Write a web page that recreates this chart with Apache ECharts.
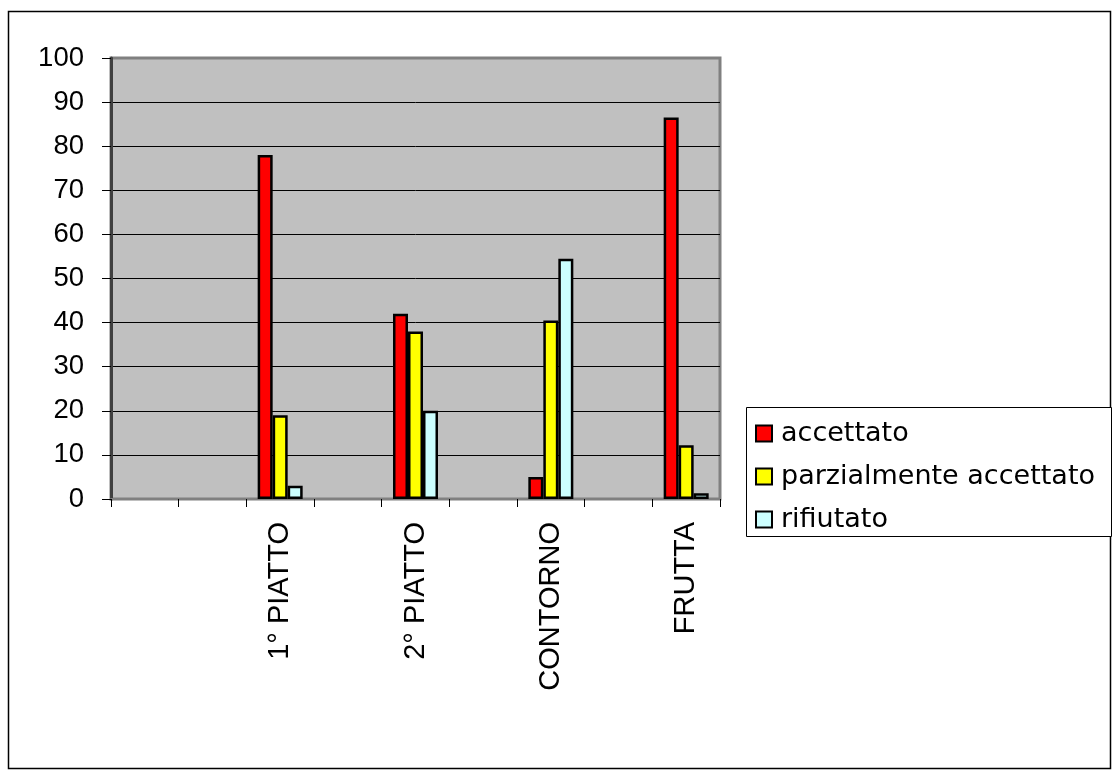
<!DOCTYPE html>
<html>
<head>
<meta charset="utf-8">
<script src="https://cdn.jsdelivr.net/npm/echarts@6/dist/echarts.min.js"></script>
<style>
html,body{margin:0;padding:0;background:#fff;}
#chart{width:1120px;height:780px;}
</style>
</head>
<body>
<div id="chart"></div>
<script>
// Category slots (blank slots are empty categories in the original chart)
var categories = ['', '', '1° PIATTO', '', '2° PIATTO', '', 'CONTORNO', '', 'FRUTTA'];
var seriesNames = ['accettato', 'parzialmente accettato', 'rifiutato'];
var accettato = [null, null, 78, null, 42, null, 5, null, 86.5];
var parzialmente = [null, null, 19, null, 38, null, 40.5, null, 12.2];
var rifiutato = [null, null, 3, null, 20, null, 54.5, null, 1.3];
var yTicks = [0, 10, 20, 30, 40, 50, 60, 70, 80, 90, 100];

var colors = ['#FF0000', '#FFFF00', '#CCFFFF'];
var values = [accettato, parzialmente, rifiutato];

var chart = echarts.init(document.getElementById('chart'), null, {renderer: 'canvas'});

var series = seriesNames.map(function (name, i) {
  return {
    name: name,
    type: 'bar',
    data: values[i],
    barWidth: 15,
    barGap: '0%',
    itemStyle: {color: colors[i], borderColor: '#000', borderWidth: 2.5},
    emphasis: {disabled: true}
  };
});

chart.setOption({
  animation: false,
  backgroundColor: '#fff',
  graphic: [
    {type: 'rect', shape: {x: 8.5, y: 11.5, width: 1102, height: 757}, style: {fill: 'none', stroke: '#000', lineWidth: 1.5}, z: -10},
    {type: 'rect', shape: {x: 746.5, y: 407.5, width: 365, height: 129}, style: {fill: '#fff', stroke: '#000', lineWidth: 1}, z: 0}
  ],
  legend: {
    orient: 'vertical',
    left: 755,
    top: 420,
    icon: 'rect',
    itemWidth: 16,
    itemHeight: 16,
    itemGap: 16,
    padding: 0,
    textStyle: {fontFamily: 'DejaVu Sans', fontSize: 27, color: '#000', padding: [0, 0, 0, 4]},
    data: seriesNames,
    z: 5
  },
  grid: {
    left: 111, right: 400, top: 58, bottom: 281,
    show: true,
    backgroundColor: '#C0C0C0',
    borderColor: '#808080',
    borderWidth: 3
  },
  xAxis: {
    type: 'category',
    data: categories,
    axisLine: {show: true, lineStyle: {color: '#808080', width: 2}},
    axisTick: {show: true, interval: 0, length: 8, lineStyle: {color: '#000', width: 1}},
    axisLabel: {
      interval: 0, rotate: 90, margin: 23,
      fontFamily: 'Liberation Sans', fontSize: 29, color: '#000'
    },
    splitLine: {show: false}
  },
  yAxis: {
    type: 'value',
    min: yTicks[0], max: yTicks[yTicks.length - 1], interval: 10,
    axisLine: {show: true, lineStyle: {color: '#404040', width: 3}},
    axisTick: {show: true, length: 9, lineStyle: {color: '#000', width: 1}},
    axisLabel: {margin: 27, fontFamily: 'Liberation Sans', fontSize: 27.5, color: '#000'},
    splitLine: {show: true, showMinLine: false, showMaxLine: false, lineStyle: {color: '#000', width: 1}}
  },
  series: series
});
</script>
</body>
</html>
